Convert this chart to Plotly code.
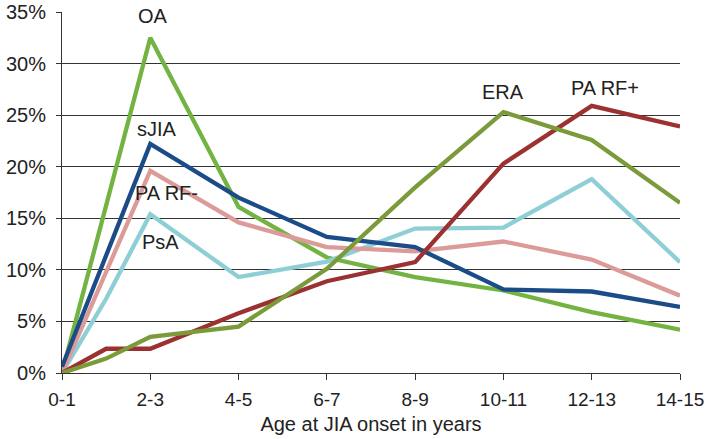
import plotly.graph_objects as go

categories = ["0-1", "1-2", "2-3", "3-4", "4-5", "5-6", "6-7", "7-8", "8-9",
              "9-10", "10-11", "11-12", "12-13", "13-14", "14-15"]
tick_labels = ["0-1", "2-3", "4-5", "6-7", "8-9", "10-11", "12-13", "14-15"]

# values in percent (None where no data point is visible)
oa     = [0.0, None, 32.5, None, 16.1, None, 11.2, None, 9.3, None, 8.0, None, 5.9, None, 4.2]
sjia   = [0.6, None, 22.2, None, 17.0, None, 13.2, None, 12.2, None, 8.1, None, 7.9, None, 6.4]
pa_rfn = [0.0, None, 19.6, None, 14.6, None, 12.2, None, 11.8, None, 12.75, None, 11.0, None, 7.5]
psa    = [0.0, 7.2, 15.4, None, 9.3, None, 10.8, None, 14.0, None, 14.1, None, 18.8, None, 10.75]
pa_rfp = [0.0, 2.35, 2.35, None, 5.8, None, 8.9, None, 10.75, None, 20.3, None, 25.9, None, 23.9]
era    = [0.0, 1.4, 3.5, None, 4.5, None, 10.1, None, 18.0, None, 25.3, None, 22.6, None, 16.5]

series = [
    ("OA", oa, "#72b341"),
    ("PsA", psa, "#8ecfd6"),
    ("PA RF-", pa_rfn, "#dc9b99"),
    ("sJIA", sjia, "#1b4c87"),
    ("PA RF+", pa_rfp, "#9b3131"),
    ("ERA", era, "#7b9a39"),
]

fig = go.Figure()
for name, vals, color in series:
    fig.add_trace(go.Scatter(
        x=categories, y=vals, mode="lines", name=name,
        line=dict(color=color, width=4.3), connectgaps=True,
        hoverinfo="skip"))

labels = [
    ("OA", "2-3", 34.6),
    ("sJIA", "2-3", 23.7),
    ("PA RF-", "2-3", 17.5),
    ("PsA", "2-3", 12.7),
    ("ERA", "10-11", 27.2),
    ("PA RF+", "12-13", 27.6),
]
xshift = {"OA": 3, "sJIA": 7, "PA RF-": 16, "PsA": 10, "ERA": 0, "PA RF+": 13}
for text, xc, yv in labels:
    fig.add_annotation(
        x=xc, y=yv, text=text, showarrow=False, xshift=xshift[text],
        font=dict(size=20, color="#222222", family="Liberation Sans, Arial, sans-serif"),
        bgcolor="white" if text == "OA" else None, borderpad=0)

fig.update_layout(
    width=711, height=439,
    margin=dict(l=62, r=31, t=12, b=66),
    paper_bgcolor="white", plot_bgcolor="white",
    showlegend=False,
    font=dict(family="Liberation Sans, Arial, sans-serif", size=19, color="#222222"),
    xaxis=dict(
        type="category", categoryorder="array", categoryarray=categories,
        range=[0, 14], automargin=False,
        tickmode="array", tickvals=tick_labels, ticktext=tick_labels,
        ticks="outside", ticklen=6, tickcolor="#333333", ticklabelstandoff=3,
        ticklabeloverflow="allow",
        showline=True, linecolor="#333333", linewidth=1,
        showgrid=False, zeroline=False,
        title=dict(text="Age at JIA onset in years", font=dict(size=20), standoff=8),
        tickfont=dict(size=19),
    ),
    yaxis=dict(
        range=[0, 35], tickvals=[0, 5, 10, 15, 20, 25, 30, 35],
        ticktext=["0%", "5%", "10%", "15%", "20%", "25%", "30%", "35%"],
        ticks="outside", ticklen=5, tickcolor="#333333", automargin=False,
        ticklabelstandoff=6, ticklabeloverflow="allow",
        showline=True, linecolor="#333333", linewidth=1,
        showgrid=True, gridcolor="#333333", gridwidth=1,
        zeroline=False, tickfont=dict(size=20),
    ),
)

fig.write_html("out.html",
               config={"displayModeBar": False},
               post_script="document.body.style.margin='0';document.body.style.overflow='hidden';")
